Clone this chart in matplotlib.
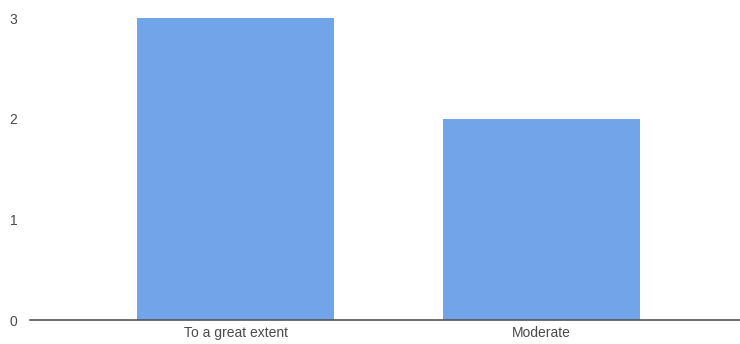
import matplotlib.pyplot as plt

categories = ['To a great extent', 'Moderate']
values = [3, 2]
yticks = [0, 1, 2, 3]

plt.rcParams['font.family'] = ['Liberation Sans', 'DejaVu Sans']

fig = plt.figure(figsize=(7.4, 3.44), dpi=100)
ax = fig.add_axes([30 / 740, 24 / 344, 710 / 740, 302 / 344])

x = list(range(len(categories)))
ax.bar(x, values, width=0.644, color='#72a4ea')

ax.set_xlim(-0.672, 1.649)
ax.set_ylim(0, 3)
ax.set_xticks(x)
ax.set_xticklabels(categories, fontsize=10, color='#4a4a4a')
ax.set_yticks(yticks)
ax.set_yticklabels([str(v) for v in yticks], fontsize=10, color='#4a4a4a')
ax.tick_params(axis='both', length=0)
ax.tick_params(axis='y', pad=9)
ax.tick_params(axis='x', pad=4)

for s in ['top', 'right', 'left']:
    ax.spines[s].set_visible(False)
ax.spines['bottom'].set_color('#555555')
ax.spines['bottom'].set_linewidth(1.2)

fig.savefig('out.png', dpi=100)
